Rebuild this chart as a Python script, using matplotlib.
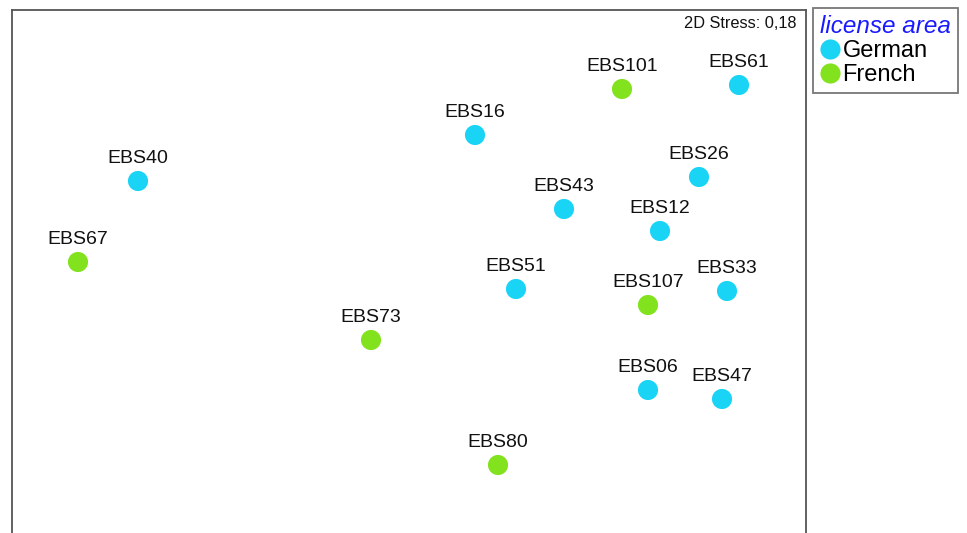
import matplotlib.pyplot as plt
from matplotlib.lines import Line2D

plt.rcParams['font.family'] = ['Liberation Sans', 'DejaVu Sans']

# NMDS ordination (arbitrary units)
samples = ["EBS101", "EBS61", "EBS16", "EBS40", "EBS26", "EBS43", "EBS12", "EBS67",
           "EBS51", "EBS107", "EBS33", "EBS73", "EBS06", "EBS47", "EBS80"]
nmds1 = [622, 739, 475, 138, 699, 564, 660, 78, 516, 648, 727, 371, 648, 722, 498]
nmds2 = [444, 448, 398, 352, 356, 324, 302, 271, 244, 228, 242, 193, 143, 134, 68]
area = ["French", "German", "German", "German", "German", "German", "German", "French",
        "German", "French", "German", "French", "German", "German", "French"]

colors = {"German": "#1ad4f5", "French": "#82e21e"}

fig = plt.figure(figsize=(9.67, 5.33), dpi=100)
ax = fig.add_axes([12 / 967, -10 / 533, 794 / 967, 533 / 533])

ax.scatter(nmds1, nmds2, s=210, c=[colors[a] for a in area], linewidths=0, zorder=3)
for name, x, y in zip(samples, nmds1, nmds2):
    ax.annotate(name, (x, y), xytext=(0, 10), textcoords="offset points",
                ha="center", va="bottom", fontsize=14, color="#111111")

ax.set_xlim(12, 806)
ax.set_ylim(-10, 523)
ax.set_xticks([])
ax.set_yticks([])
for side in ax.spines.values():
    side.set_color("#555555")
    side.set_linewidth(1.3)

ax.text(0.988, 0.975, "2D Stress: 0,18", transform=ax.transAxes, ha="right", va="center",
        fontsize=11.8, color="#111111")

handles = [Line2D([], [], marker="o", linestyle="none", markersize=14.5,
                  markerfacecolor=colors[k], markeredgewidth=0, label=k)
           for k in ["German", "French"]]
leg = fig.legend(handles=handles, title="license area", loc="upper left",
                 bbox_to_anchor=(813 / 967, 1 - 8 / 533), fontsize=17,
                 title_fontsize=17.5, frameon=True, fancybox=False,
                 handlelength=0.8, handletextpad=0.15, borderpad=0.3,
                 labelspacing=0.08, borderaxespad=0, alignment="left")
leg.get_title().set_color("#1a1aff")
leg.get_title().set_style("italic")
leg.get_frame().set_edgecolor("#555555")
leg.get_frame().set_linewidth(1.3)

fig.savefig("out.png", dpi=100)
